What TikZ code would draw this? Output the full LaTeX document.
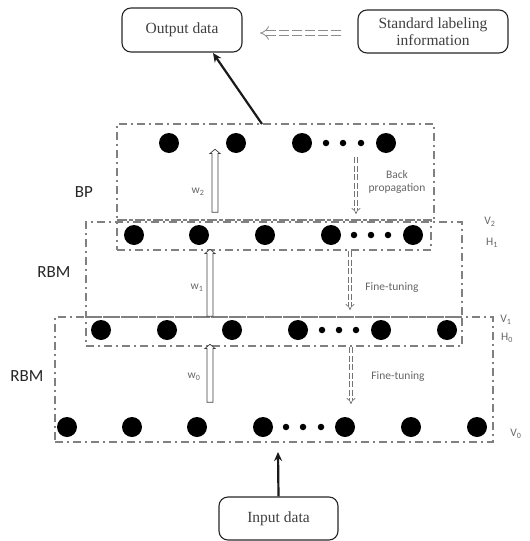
\documentclass[tikz,border=0pt]{standalone}
\usepackage{fontspec}
\setmainfont{Liberation Serif}
\newfontfamily\calfont{Carlito}
\usetikzlibrary{arrows.meta,shapes.arrows}
\begin{document}
\begin{tikzpicture}[x=1pt,y=-1pt,
  dot/.style={circle,fill=black,inner sep=0pt,minimum size=20pt},
  sdot/.style={circle,fill=black,inner sep=0pt,minimum size=6.5pt},
  frame/.style={draw=black!50, line width=1.2pt, dash pattern=on 8pt off 4pt on 2pt off 4pt, inner sep=0pt},
  databox/.style={draw=black!85, line width=1.1pt, rounded corners=9pt, align=center, inner sep=0pt,
     font=\fontsize{15.5}{17}\selectfont, text=black!75},
  hollow/.style={single arrow, draw=black!75, fill=white, line width=0.7pt, inner xsep=2.6pt, inner ysep=0pt,
     single arrow head extend=2.2pt, single arrow tip angle=100, shape border rotate=90},
  ddash/.style={draw=black!55, double=white, double distance=2.4pt, line width=0.7pt, dash pattern=on 6pt off 2.5pt, -{Implies}},
  glabel/.style={font=\calfont\fontsize{11.5}{13}\selectfont, text=black!60, align=left},
  big/.style={font=\calfont\fontsize{17}{18}\selectfont, text=black!85},
  blackarrow/.style={draw=black!90, line width=2.2pt, -{Stealth[length=9pt,width=8pt]}}
]
\useasboundingbox (0,0) rectangle (530,541);

% data boxes
\node[databox, minimum width=120pt, minimum height=44pt] (out) at (182,30) {Output data};
\node[databox, minimum width=150pt, minimum height=43pt] (std) at (433,31.5) {Standard labeling\\information};
\node[databox, minimum width=119pt, minimum height=43pt] (inp) at (278.5,518.5) {Input data};

% frames
\node[frame, minimum width=317pt, minimum height=96pt] (bp) at (275.5,172) {};
\node[frame, minimum width=314pt, minimum height=30pt] (l2) at (274,235) {};
\node[frame, minimum width=376pt, minimum height=95pt] (rbm1) at (274,269.5) {};
\node[frame, minimum width=376pt, minimum height=29pt] (l1) at (274,331.5) {};
\node[frame, minimum width=438pt, minimum height=125pt] (rbm0) at (274,379.5) {};

% row 3 (top, BP output)
\foreach \x/\n in {169/a,236/b,302/c,386/d} \node[dot] (t\n) at (\x,143) {};
\foreach \x/\n in {326/a,343/b,361/c} \node[sdot] (ts\n) at (\x,143) {};
% row 2 (V2/H1)
\foreach \x/\n in {134/a,199/b,265/c,331/d,413/e} \node[dot] (p\n) at (\x,235) {};
\foreach \x/\n in {354/a,371/b,388/c} \node[sdot] (ps\n) at (\x,235) {};
% row 1 (V1/H0)
\foreach \x/\n in {101/a,167/b,232/c,298/d,381/e,447/f} \node[dot] (q\n) at (\x,330) {};
\foreach \x/\n in {322/a,339/b,356/c} \node[sdot] (qs\n) at (\x,330) {};
% row 0 (V0)
\foreach \x/\n in {67/a,132/b,197/c,263/d,345/e,411/f,477/g} \node[dot] (r\n) at (\x,427) {};
\foreach \x/\n in {286/a,303/b,321/c} \node[sdot] (rs\n) at (\x,427) {};

% hollow arrows (weights)
\node[hollow, minimum height=63pt] (aw2) at (215,182) {};
\node[hollow, minimum height=67pt] (aw1) at (210,284) {};
\node[hollow, minimum height=58pt] (aw0) at (210,374.5) {};
\node[glabel] (lw2) at (198,192) {w\textsubscript{2}};
\node[glabel] (lw1) at (197,288) {w\textsubscript{1}};
\node[glabel] (lw0) at (194,377) {w\textsubscript{0}};

% dashed down arrows
\coordinate (d2a) at (356,157); \coordinate (d2b) at (356,214);
\coordinate (d1a) at (350,251); \coordinate (d1b) at (350,310);
\coordinate (d0a) at (351,347); \coordinate (d0b) at (351,404);
\draw[ddash] (d2a) -- (d2b);
\draw[ddash] (d1a) -- (d1b);
\draw[ddash] (d0a) -- (d0b);
\node[glabel, align=center] (lbp) at (397,182) {Back\\propagation};
\node[glabel] (lf1) at (392,288) {Fine-tuning};
\node[glabel] (lf0) at (398,377) {Fine-tuning};

% left labels
\node[big] (nbp) at (84,192) {BP};
\node[big] (nrbm1) at (54,272) {RBM};
\node[big] (nrbm0) at (27,376) {RBM};

% right labels
\node[glabel] (v2) at (490,222) {V\textsubscript{2}};
\node[glabel] (h1) at (492,243) {H\textsubscript{1}};
\node[glabel] (v1) at (506,320) {V\textsubscript{1}};
\node[glabel] (h0) at (507,338) {H\textsubscript{0}};
\node[glabel] (v0) at (516,434) {V\textsubscript{0}};

% top dashed arrow from standard labeling to output
\coordinate (sa) at (341,33); \coordinate (sb) at (260,33);
\draw[draw=black!45, double=white, double distance=4pt, line width=0.8pt, dash pattern=on 10pt off 3pt, -{Implies}] (sa) -- (sb);

% black arrows
\coordinate (bpout) at (262,124); \coordinate (outin) at (213,53);
\draw[blackarrow] (bpout) -- (outin);
\coordinate (inin) at (278,452);
\draw[blackarrow] (inp.north) -- (inin);
\end{tikzpicture}
\end{document}
